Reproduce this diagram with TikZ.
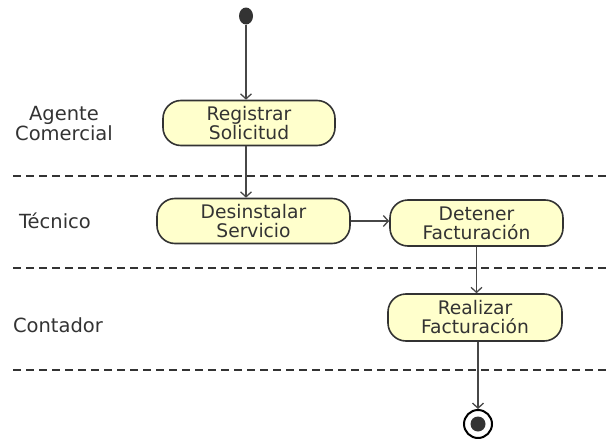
\documentclass[tikz,border=0pt]{standalone}
\usepackage{fontspec}
\setmainfont{DejaVu Sans}
\usetikzlibrary{arrows.meta,shapes.geometric}

\definecolor{amarillo}{RGB}{255,255,204}
\definecolor{tinta}{RGB}{51,51,51}

\tikzset{
	actividad/.style={draw=tinta, fill=amarillo, line width=1.6pt,
		rounded corners=18pt, minimum width=172pt, minimum height=45pt,
		align=center, text=tinta, inner sep=0pt,
		font=\fontsize{18.7}{19}\selectfont},
	rol/.style={align=center, text=tinta, font=\fontsize{19.5}{20}\selectfont},
	carril/.style={draw=tinta, line width=1.8pt, dash pattern=on 8pt off 5pt},
	flecha/.style={draw=tinta!90, line width=1.3pt,
		-{Straight Barb[length=5pt,width=11pt]}}
}

\begin{document}
\begin{tikzpicture}[x=1pt, y=-1pt]
	\useasboundingbox (0,0) rectangle (611,439);

	% roles
	\node[rol] (agente) at (64,124) {Agente\\Comercial};
	\node[rol] (tecnico) at (55,221) {Técnico};
	\node[rol] (contador) at (58,325) {Contador};

	% separadores de carriles
	\coordinate (c1a) at (13,176); \coordinate (c1b) at (611,176);
	\coordinate (c2a) at (13,268); \coordinate (c2b) at (611,268);
	\coordinate (c3a) at (13,370); \coordinate (c3b) at (611,370);
	\draw[carril] (c1a) -- (c1b);
	\draw[carril] (c2a) -- (c2b);
	\draw[carril] (c3a) -- (c3b);

	% inicio y fin
	\node[ellipse, fill=tinta, minimum width=14pt, minimum height=17pt,
		inner sep=0pt] (inicio) at (246,16) {};
	\node[circle, draw=black, line width=2pt, minimum size=28pt,
		inner sep=0pt] (fin) at (478,424) {};
	\node[circle, fill=tinta, minimum size=15pt, inner sep=0pt] (finc) at (fin) {};

	% actividades
	\node[actividad] (registrar) at (249,123) {Registrar\\Solicitud};
	\node[actividad, minimum width=193pt] (desinstalar) at (253.5,221) {Desinstalar\\Servicio};
	\node[actividad, minimum width=173pt, minimum height=46pt] (detener) at (476.5,223) {Detener\\Facturación};
	\node[actividad, minimum width=174pt, minimum height=47pt] (realizar) at (475,317.5) {Realizar\\Facturación};

	% flujo
	\draw[flecha] (inicio) -- (registrar.north -| inicio);
	\draw[flecha] (registrar.south -| inicio) -- (desinstalar.north -| inicio);
	\draw[flecha] (desinstalar.east) -- (desinstalar.east -| detener.west);
	\draw[flecha] (detener.south) -- (detener.south |- realizar.north);
	\draw[flecha] (realizar.south -| fin) -- (fin.north);
\end{tikzpicture}
\end{document}
